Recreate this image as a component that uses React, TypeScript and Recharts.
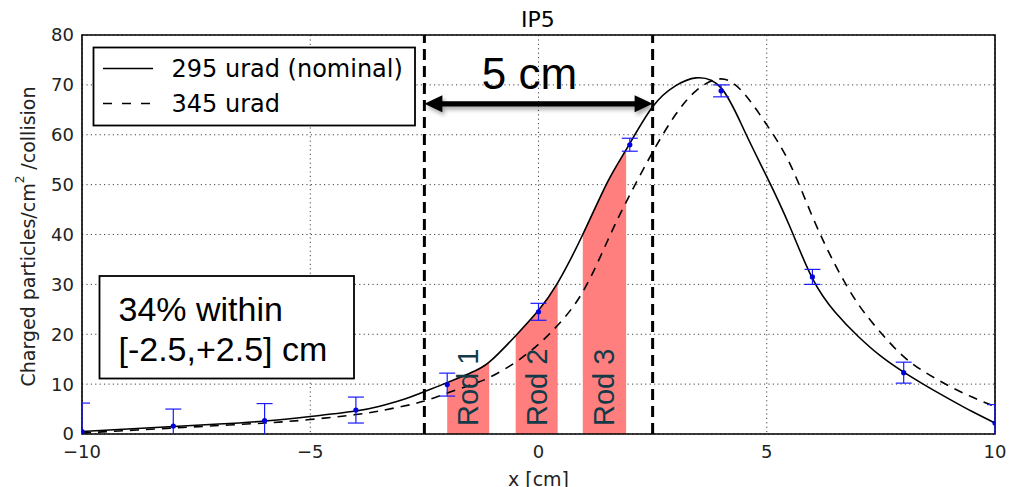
import React from 'react';
import {
  ComposedChart,
  Line,
  Area,
  Scatter,
  XAxis,
  YAxis,
  CartesianGrid,
  ReferenceLine,
  ReferenceArea,
  ReferenceDot,
  ErrorBar,
} from 'recharts';

// Sample positions along the beam axis (cm)
const xSamples = [
  -10, -9, -8, -7, -6, -5, -4, -3.5, -3, -2.5, -2, -1.5, -1.08, -0.5, 0, 0.42, 0.97, 1.5, 1.92,
  2.5, 3.0, 3.45, 4.0, 4.5, 5.0, 5.5, 6.0, 6.5, 7.0, 7.5, 8.0, 8.5, 9.0, 9.5, 10,
];
// Charged particles / cm^2 / collision, 295 urad crossing angle (nominal)
const nominal295 = [
  0.5, 1.0, 1.5, 2.0, 2.6, 3.5, 4.6, 5.5, 6.8, 8.5, 10.3, 12.2, 14.4, 19.7, 24.8, 30.3, 40.0, 50.3, 57.0,
  65.6, 69.8, 71.4, 69.4, 61.0, 51.6, 41.7, 31.2, 24.4, 19.6, 15.6, 12.4, 9.6, 7.0, 4.5, 2.2,
];
// Same, 345 urad crossing angle
const wide345 = [
  0.2, 0.7, 1.2, 1.7, 2.2, 2.9, 3.9, 4.6, 5.5, 6.6, 8.2, 9.8, 11.3, 14.4, 18.0, 21.8, 28.5, 38.5, 46.5,
  56.5, 64.0, 68.8, 71.2, 68.3, 62.0, 54.3, 43.6, 33.9, 26.1, 20.3, 15.5, 12.2, 9.6, 7.4, 5.5,
];

// Measured points with uncertainties
const measX = [-10, -8, -6, -4, -2, 0, 2, 4, 6, 8, 10];
const measY = [0.5, 1.6, 2.7, 4.8, 9.9, 24.5, 58.0, 68.8, 31.5, 12.3, 2.2];
const measErr = [5.7, 3.4, 3.4, 2.6, 2.3, 1.7, 1.3, 1.2, 1.5, 2.1, 3.7];

// Detector rods (cm)
const rodNames = ['Rod 1', 'Rod 2', 'Rod 3'];
const rodStart = [-2.0, -0.5, 0.97];
const rodEnd = [-1.08, 0.42, 1.92];

// +/- 2.5 cm window
const windowEdges = [-2.5, 2.5];
const arrowLevel = 66.2;

const xTicks = [-10, -5, 0, 5, 10];
const yTicks = [0, 10, 20, 30, 40, 50, 60, 70, 80];

const curveRows = xSamples.map((x, i) => {
  const row: Record<string, number | null> = { x, nominal: nominal295[i], wide: wide345[i] };
  rodStart.forEach((s, r) => {
    row[`rod${r}`] = x >= s && x <= rodEnd[r] ? nominal295[i] : null;
  });
  return row;
});

const measRows = measX.map((x, i) => ({ x, y: measY[i], err: measErr[i] }));

// layout
const W = 1015;
const H = 487;
const MARGIN = { top: 35, right: 20, bottom: 23, left: 0 };
const Y_AXIS_W = 82;
const X_AXIS_H = 30;
const PLOT = {
  x: MARGIN.left + Y_AXIS_W,
  y: MARGIN.top,
  w: W - MARGIN.left - MARGIN.right - Y_AXIS_W,
  h: H - MARGIN.top - MARGIN.bottom - X_AXIS_H,
};

const SANS = "'DejaVu Sans', sans-serif";
const ARIAL = "'Liberation Sans', Arial, sans-serif";
const RED = '#ff7f7f';

const fmt = (v: number) => (v < 0 ? '\u2212' + Math.abs(v) : String(v));

const Dot = (p: any) => <circle cx={p.cx} cy={p.cy} r={2.6} fill="#0000dd" />;

const Arrow = (p: any) => {
  const { x1, x2, y1 } = p;
  const head = 18;
  const half = 8.5;
  const body = 2.7;
  const d = [
    `M${x1},${y1}`,
    `L${x1 + head},${y1 - half}`,
    `L${x1 + head},${y1 - body}`,
    `L${x2 - head},${y1 - body}`,
    `L${x2 - head},${y1 - half}`,
    `L${x2},${y1}`,
    `L${x2 - head},${y1 + half}`,
    `L${x2 - head},${y1 + body}`,
    `L${x1 + head},${y1 + body}`,
    `L${x1 + head},${y1 + half}`,
    'Z',
  ].join(' ');
  return (
    <g>
      <defs>
        <filter id="arrowShadow" x="-10%" y="-100%" width="120%" height="300%">
          <feDropShadow dx="2" dy="3" stdDeviation="2" floodColor="#000" floodOpacity="0.35" />
        </filter>
      </defs>
      <path d={d} fill="#000" filter="url(#arrowShadow)" />
      <text x={(x1 + x2) / 2 - 9} y={y1 - 15} textAnchor="middle" fontFamily={ARIAL} fontSize={44} fill="#000">
        5 cm
      </text>
    </g>
  );
};

const rodLabel = (name: string) => (p: any) => (
  <text
    x={p.cx}
    y={p.cy - 8}
    transform={`rotate(-90 ${p.cx} ${p.cy - 8})`}
    textAnchor="start"
    dominantBaseline="central"
    fontFamily={ARIAL}
    fontSize={29}
    fill="#123a48"
  >
    {name}
  </text>
);

const YLabel = (p: any) => {
  const vb = p.viewBox;
  const cx = vb.x + 28;
  const cy = vb.y + vb.height / 2 + 2;
  return (
    <text
      x={cx}
      y={cy}
      transform={`rotate(-90 ${cx} ${cy})`}
      textAnchor="middle"
      dominantBaseline="central"
      fontFamily={SANS}
      fontSize={19}
      fill="#222"
    >
      Charged particles/cm
      <tspan dy={-8} fontSize={12}>2</tspan>
      <tspan dy={8}> /collision</tspan>
    </text>
  );
};

const XLabel = (p: any) => {
  const vb = p.viewBox;
  return (
    <text x={vb.x + vb.width / 2} y={vb.y + 51.5} textAnchor="middle" fontFamily={SANS} fontSize={19} fill="#222">
      x [cm]
    </text>
  );
};

const tickStyle = { fontSize: 18, fill: '#222', fontFamily: SANS };

export default function App() {
  return (
    <div style={{ position: 'absolute', left: 0, top: 0, width: W, height: H, background: '#fff', overflow: 'hidden' }}>
      <style>{`.plot-clipped, .recharts-errorBars { clip-path: url(#plotArea); }`}</style>
      <svg width={0} height={0} style={{ position: 'absolute' }}>
        <defs>
          <clipPath id="plotArea">
            <rect x={PLOT.x} y={PLOT.y} width={PLOT.w} height={PLOT.h} />
          </clipPath>
        </defs>
      </svg>
      <ComposedChart width={W} height={H} data={curveRows} margin={MARGIN}>
        <CartesianGrid stroke="#444" strokeDasharray="1.2 3.2" strokeWidth={1} />
        <XAxis
          dataKey="x"
          type="number"
          domain={[-10, 10]}
          ticks={xTicks}
          allowDataOverflow
          axisLine={false}
          tickLine={false}
          tickSize={0}
          tickMargin={11}
          height={X_AXIS_H}
          tick={tickStyle}
          tickFormatter={fmt}
          label={{ content: XLabel }}
        />
        <YAxis
          type="number"
          domain={[0, 80]}
          ticks={yTicks}
          allowDataOverflow
          axisLine={false}
          tickLine={false}
          tickSize={0}
          tickMargin={8}
          width={Y_AXIS_W}
          tick={tickStyle}
          label={{ content: YLabel }}
        />
        {/* inward tick marks on all four sides */}
        <XAxis xAxisId="tickB" type="number" dataKey="x" domain={[-10, 10]} ticks={xTicks} orientation="bottom" mirror tick={false} tickSize={6} axisLine={false} tickLine={{ stroke: '#000' }} />
        <XAxis xAxisId="tickT" type="number" dataKey="x" domain={[-10, 10]} ticks={xTicks} orientation="top" mirror tick={false} tickSize={6} axisLine={false} tickLine={{ stroke: '#000' }} />
        <YAxis yAxisId="tickL" type="number" domain={[0, 80]} ticks={yTicks} orientation="left" mirror tick={false} tickSize={6} axisLine={false} tickLine={{ stroke: '#000' }} />
        <YAxis yAxisId="tickR" type="number" domain={[0, 80]} ticks={yTicks} orientation="right" mirror tick={false} tickSize={6} axisLine={false} tickLine={{ stroke: '#000' }} />

        {rodNames.map((_, r) => (
          <Area
            key={`rod${r}`}
            dataKey={`rod${r}`}
            type="natural"
            baseValue={0}
            fill={RED}
            fillOpacity={1}
            stroke="#ff9c9c"
            strokeWidth={1}
            connectNulls={false}
            isAnimationActive={false}
            dot={false}
            activeDot={false}
          />
        ))}

        {windowEdges.map((x) => (
          <ReferenceLine key={x} x={x} stroke="#000" strokeWidth={3} strokeDasharray="11 6" ifOverflow="visible" />
        ))}

        <Line dataKey="nominal" type="natural" stroke="#000" strokeWidth={1.6} dot={false} activeDot={false} isAnimationActive={false} />
        <Line dataKey="wide" type="natural" stroke="#000" strokeWidth={1.6} strokeDasharray="9 7" dot={false} activeDot={false} isAnimationActive={false} />

        <Scatter className="plot-clipped" data={measRows} dataKey="y" shape={Dot} isAnimationActive={false}>
          <ErrorBar dataKey="err" direction="y" width={8} stroke="#1a1aff" strokeWidth={1.2} />
        </Scatter>

        <ReferenceLine
          segment={[
            { x: windowEdges[0], y: arrowLevel },
            { x: windowEdges[1], y: arrowLevel },
          ]}
          shape={Arrow}
          ifOverflow="visible"
        />

        {rodNames.map((name, r) => (
          <ReferenceDot
            key={name}
            x={(rodStart[r] + rodEnd[r]) / 2}
            y={0}
            r={0}
            shape={rodLabel(name)}
            ifOverflow="visible"
          />
        ))}

        <ReferenceArea x1={-10} x2={10} y1={0} y2={80} fill="none" stroke="#000" strokeWidth={1.6} ifOverflow="visible" />
      </ComposedChart>

      <svg width={W} height={H} style={{ position: 'absolute', left: 0, top: 0, pointerEvents: 'none' }}>
        <text x={538} y={26.7} textAnchor="middle" fontFamily={SANS} fontSize={22} fill="#000">
          IP5
        </text>

        <g transform="translate(93.5 47.5)">
          <rect x={0} y={0} width={321.5} height={78} fill="#fff" stroke="#000" strokeWidth={1.8} />
          <line x1={9.5} x2={59.5} y1={21} y2={21} stroke="#000" strokeWidth={1.6} />
          <line x1={9.5} x2={59.5} y1={56} y2={56} stroke="#000" strokeWidth={1.6} strokeDasharray="9 10" />
          <text x={78} y={29.5} fontFamily={SANS} fontSize={24} fill="#000">295 urad (nominal)</text>
          <text x={78} y={64.5} fontFamily={SANS} fontSize={24} fill="#000">345 urad</text>
        </g>

        <g transform="translate(99.5 276)">
          <rect x={0} y={0} width={254.5} height={102.5} fill="#fff" stroke="#000" strokeWidth={1.8} />
          <text x={19} y={44.5} fontFamily={ARIAL} fontSize={34} fill="#000">34% within</text>
          <text x={19} y={84.5} fontFamily={ARIAL} fontSize={34} fill="#000">[-2.5,+2.5] cm</text>
        </g>
      </svg>
    </div>
  );
}
